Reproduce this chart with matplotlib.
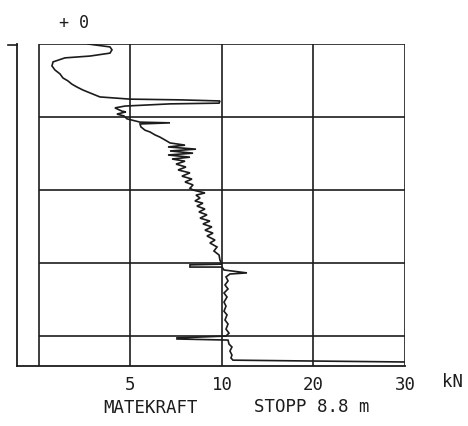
import numpy as np
import matplotlib
matplotlib.use("Agg")
import matplotlib.pyplot as plt

# sounding log: force (kN) against depth (m)
force = [2.68, 3.88, 3.99, 3.88, 2.79, 1.42, 0.77, 0.71, 0.87, 1.15,
         1.31, 1.58, 1.80, 2.08, 2.40, 2.79, 3.33, 4.97, 7.70, 9.89,
         9.84, 7.16, 4.70, 4.15, 4.54, 4.75, 4.26, 4.64, 4.81,
         5.52, 7.16, 5.52, 5.57, 5.79, 6.07, 6.34, 6.61, 6.89, 7.16,
         7.98, 7.05, 8.58, 7.16, 8.42, 7.05, 8.25, 7.27, 7.98, 7.49,
         8.03, 7.60, 8.25, 7.81, 8.36, 7.98, 8.42, 8.25, 8.42,
         9.07, 8.58, 8.80, 8.52, 8.96, 8.63, 9.07, 8.74, 9.18, 8.80,
         9.34, 8.96, 9.45, 9.07, 9.51, 9.18, 9.62, 9.34, 9.73, 9.56,
         9.84, 9.89, 10.0, 8.25, 8.25, 10.0, 10.22, 12.73, 10.87, 10.44,
         10.66, 10.33, 10.66, 10.22, 10.55, 10.22, 10.44, 10.22, 10.55, 10.33,
         10.66, 10.44, 10.77, 10.44, 7.54, 7.54, 10.66, 10.77, 11.09, 10.87,
         11.09, 10.98, 11.2, 18.5, 30.0]
depth = [0.00, 0.08, 0.16, 0.25, 0.33, 0.38, 0.49, 0.60, 0.71, 0.82,
         0.93, 1.01, 1.10, 1.18, 1.26, 1.34, 1.45, 1.51, 1.53, 1.56,
         1.62, 1.64, 1.70, 1.75, 1.84, 1.86, 1.92, 1.97, 2.05,
         2.14, 2.16, 2.19, 2.27, 2.36, 2.41, 2.49, 2.55, 2.63, 2.71,
         2.77, 2.82, 2.88, 2.93, 2.99, 3.04, 3.10, 3.15, 3.21, 3.29,
         3.37, 3.45, 3.53, 3.62, 3.70, 3.78, 3.86, 3.95, 4.00,
         4.08, 4.14, 4.22, 4.30, 4.36, 4.44, 4.52, 4.60, 4.68, 4.77,
         4.85, 4.93, 5.01, 5.10, 5.18, 5.26, 5.37, 5.45, 5.56, 5.67,
         5.78, 5.92, 6.03, 6.05, 6.11, 6.11, 6.19, 6.27, 6.30, 6.38,
         6.49, 6.60, 6.71, 6.82, 6.93, 7.07, 7.18, 7.32, 7.42, 7.56,
         7.67, 7.81, 7.92, 8.00, 8.05, 8.08, 8.11, 8.22, 8.30, 8.41,
         8.52, 8.60, 8.66, 8.68, 8.71]

x_grid = [0, 5, 10, 20, 30]
x_labels = ["5", "10", "20", "30"]
depth_grid = [0, 2, 4, 6, 8]
stop_depth = 8.82

ink = "#1c1c1c"
mono = ["DejaVu Sans Mono"]


# kN axis: 0-10 on one scale, 10-30 compressed by half
def fwd(x):
    x = np.asarray(x, dtype=float)
    return np.where(x <= 10, x, 10 + (x - 10) / 2)


def inv(u):
    u = np.asarray(u, dtype=float)
    return np.where(u <= 10, u, 10 + (u - 10) * 2)


fig = plt.figure(figsize=(4.68, 4.26), dpi=100, facecolor="white")
ax = fig.add_axes([17 / 468, 1 - 366 / 426, (405 - 17) / 468, (366 - 44) / 426])
ax.set_xscale("function", functions=(fwd, inv))
ax.set_xlim(-1.2, 30)
ax.set_ylim(stop_depth, 0)

for s in ["top", "right"]:
    ax.spines[s].set_visible(False)
for s in ["left", "bottom"]:
    ax.spines[s].set_color(ink)
    ax.spines[s].set_linewidth(1.3)

ax.vlines(x_grid, 0, stop_depth, color=ink, lw=1.2)
ax.hlines(depth_grid, 0, 30, color=ink, lw=1.2)
ax.plot([-1.7, -1.2], [0.03, 0.03], color=ink, lw=1.2, clip_on=False)

ax.plot(force, depth, color=ink, lw=1.2, solid_joinstyle="miter")

ax.set_xticks([5, 10, 20, 30])
ax.set_xticklabels(x_labels, family=mono, fontsize=12.5, color=ink)
ax.tick_params(axis="x", length=0, pad=7)
ax.set_yticks([])
ax.xaxis.set_minor_locator(matplotlib.ticker.NullLocator())

fig.text(453 / 468, 1 - 382 / 426, "kN", family=mono, fontsize=12.5,
         color=ink, ha="center", va="center")
fig.text(74 / 468, 1 - 23 / 426, "+ 0", family=mono, fontsize=12,
         color=ink, ha="center", va="center")
fig.text(151 / 468, 1 - 408 / 426, "MATEKRAFT", family=mono, fontsize=12.5,
         color=ink, ha="center", va="center")
fig.text(312 / 468, 1 - 407 / 426, "STOPP 8.8 m", family=mono, fontsize=12.5,
         color=ink, ha="center", va="center")

fig.savefig("out.png", dpi=100, facecolor="white")
